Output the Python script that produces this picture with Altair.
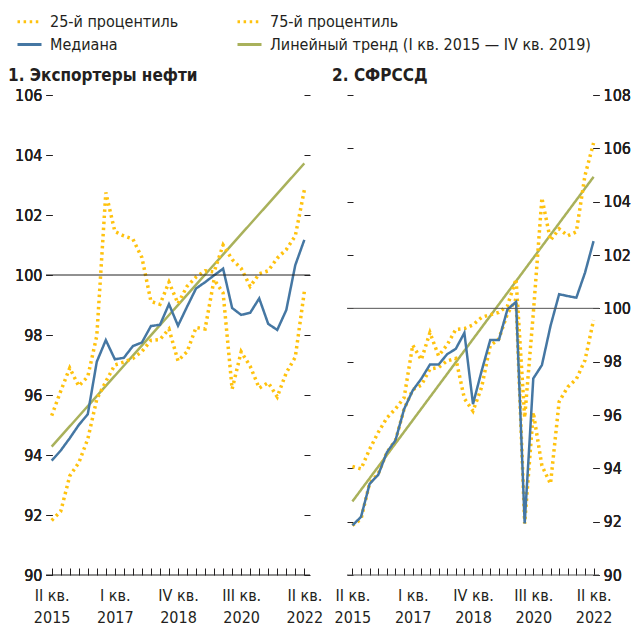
import altair as alt
import pandas as pd

# ---------------- data ----------------
roman = ["I", "II", "III", "IV"]
years = [2015, 2016, 2017, 2018, 2019, 2020, 2021, 2022]
quarters = [f"{roman[q]} кв.|{y}" for y in years for q in range(4)][1:30]  # II кв. 2015 ... II кв. 2022
x_tick_labels = ["II кв.|2015", "I кв.|2017", "IV кв.|2018", "III кв.|2020", "II кв.|2022"]

S25 = "25-й процентиль"
S75 = "75-й процентиль"
SMED = "Медиана"
STR = "Линейный тренд (I кв. 2015 — IV кв. 2019)"
series_names = [S25, S75, SMED, STR]

panel_titles = ["1. Экспортеры нефти", "2. СФРССД"]

oil_p25 = [91.82, 92.12, 93.30, 93.74, 94.53, 95.86, 96.45, 97.00, 97.10, 97.22, 97.45, 97.82, 97.85, 98.20, 97.14,
           97.44, 98.25, 98.20, 99.85, 99.40, 96.20, 97.44, 96.96, 96.23, 96.41, 95.94, 96.74, 97.26, 99.44]
oil_p75 = [95.31, 96.13, 96.90, 96.30, 96.61, 97.97, 102.75, 101.45, 101.30, 101.20, 100.58, 99.12, 99.02, 99.76, 99.05,
           99.62, 99.93, 100.14, 100.10, 101.00, 100.52, 100.22, 99.62, 100.04, 100.14, 100.56, 100.85, 101.30, 102.83]
oil_median = [93.81, 94.15, 94.56, 95.00, 95.36, 97.11, 97.83, 97.19, 97.24, 97.63, 97.75, 98.30, 98.34, 99.03, 98.31,
              98.94, 99.55, 99.76, 99.99, 100.21, 98.90, 98.67, 98.74, 99.22, 98.37, 98.17, 98.83, 100.33, 101.17]
oil_trend = [94.28, 103.72]  # first and last quarter

lic_p25 = [91.86, 92.10, 93.45, 93.80, 94.60, 95.05, 96.22, 96.95, 97.12, 97.72, 97.78, 98.03, 98.12, 96.62, 96.15,
           97.04, 98.60, 98.85, 99.80, 100.35, 91.93, 96.10, 94.10, 93.42, 96.50, 97.05, 97.35, 98.05, 99.56]
lic_p75 = [94.07, 93.98, 94.72, 95.35, 95.89, 96.23, 96.65, 98.62, 98.07, 99.09, 98.22, 98.63, 99.21, 99.24, 99.38,
           99.66, 99.76, 99.85, 100.10, 101.10, 95.90, 99.80, 104.14, 102.55, 102.98, 102.72, 102.87, 104.98, 106.20]
lic_median = [91.86, 92.18, 93.42, 93.76, 94.60, 95.05, 96.22, 96.92, 97.36, 97.89, 97.89, 98.28, 98.48, 99.08, 96.41,
              97.65, 98.81, 98.81, 99.96, 100.24, 91.93, 97.37, 97.87, 99.34, 100.53, 100.46, 100.40, 101.33, 102.52]
lic_trend = [92.76, 104.93]

oil_y_ticks = [90, 92, 94, 96, 98, 100, 102, 104, 106]
lic_y_ticks = [90, 92, 94, 96, 98, 100, 102, 104, 106, 108]
ref_lines = [90, 100]

# ---------------- styling ----------------
FONT = "Liberation Sans Narrow, Arial Narrow, DejaVu Sans Condensed, sans-serif"
YELLOW = "#ffc20e"
BLUE = "#4577a3"
OLIVE = "#a9b15b"
TXT = "#231f20"
DOT = [2.5, 3.6]

label_expr = ("indexof([" + ",".join(f"'{t}'" for t in x_tick_labels) +
              "], datum.value) >= 0 ? split(datum.value, '|') : ''")

color_scale = alt.Scale(domain=series_names, range=[YELLOW, YELLOW, BLUE, OLIVE])
dash_scale = alt.Scale(domain=series_names, range=[DOT, DOT, [1, 0], [1, 0]])


def long_df(p25, p75, med, trend):
    rows = []
    for k, (q, a, b, m) in enumerate(zip(quarters, p25, p75, med)):
        rows.append({"q": q, "k": k, "v": a, "s": S25})
        rows.append({"q": q, "k": k, "v": b, "s": S75})
        rows.append({"q": q, "k": k, "v": m, "s": SMED})
    rows.append({"q": quarters[0], "k": 0, "v": trend[0], "s": STR})
    rows.append({"q": quarters[-1], "k": len(quarters) - 1, "v": trend[1], "s": STR})
    return pd.DataFrame(rows)


def panel(title, p25, p75, med, trend, y_ticks, labels_left, title_dx, w, h, rule_color):
    df = long_df(p25, p75, med, trend)
    x = alt.X("q:O",
              scale=alt.Scale(type="point", padding=0.63, domain=quarters),
              axis=alt.Axis(title=None, labelAngle=0, labelExpr=label_expr, labelOverlap=False,
                            domain=False, tickSize=7, offset=-7, labelPadding=12,
                            labelLineHeight=22, labelFontSize=16, labelColor=TXT,
                            tickColor=TXT))
    yscale = alt.Scale(domain=[y_ticks[0], y_ticks[-1]], nice=False, zero=False)
    lab_axis = alt.Axis(title=None, values=y_ticks, orient="left" if labels_left else "right",
                        offset=-6, tickSize=6, domain=False, grid=False, labelPadding=4,
                        labelFontSize=16, labelColor=TXT, tickColor=TXT)
    tick_axis = alt.Axis(title=None, values=y_ticks, orient="right" if labels_left else "left",
                         offset=-6, tickSize=6, domain=False, grid=False, labels=False, tickColor=TXT)

    base = alt.Chart(df)
    enc = dict(
        x=x,
        color=alt.Color("s:N", scale=color_scale, title=None),
        strokeDash=alt.StrokeDash("s:N", scale=dash_scale, title=None),
        order=alt.Order("k:Q"),
    )

    trend_l = base.transform_filter(alt.datum.s == STR).mark_line(strokeWidth=2.5).encode(
        y=alt.Y("v:Q", scale=yscale, axis=lab_axis), **enc)
    dots_l = base.transform_filter((alt.datum.s == S25) | (alt.datum.s == S75)).mark_line(
        strokeWidth=3.5).encode(y=alt.Y("v:Q", scale=yscale, axis=lab_axis), **enc)
    med_l = base.transform_filter(alt.datum.s == SMED).mark_line(strokeWidth=2.5).encode(
        y=alt.Y("v:Q", scale=yscale, axis=lab_axis), **enc)

    rules = alt.Chart(pd.DataFrame({"v": ref_lines})).mark_rule(color=rule_color, strokeWidth=1).encode(
        y=alt.Y("v:Q", scale=yscale, axis=tick_axis))

    return alt.layer(trend_l, dots_l, med_l, rules).resolve_axis(y="independent").properties(
        width=w, height=h,
        title=alt.Title(title, anchor="start", fontSize=17, fontWeight="bold", color=TXT,
                        dx=title_dx, offset=2, font=FONT))


left = panel(panel_titles[0], oil_p25, oil_p75, oil_median, oil_trend, oil_y_ticks, True, -6.5, 264, 480, "#222222")
right = panel(panel_titles[1], lic_p25, lic_p75, lic_median, lic_trend, lic_y_ticks, False, -2, 252, 480, "#555555")

chart = alt.hconcat(left, right, spacing=37, bounds="flush").properties(padding=0).configure(
    font=FONT
).configure_view(stroke=None).configure_legend(
    orient="none", legendX=-30, legendY=-87, direction="horizontal",
    columns=2, symbolType="stroke", symbolSize=576, symbolStrokeWidth=3,
    labelFontSize=16, labelColor=TXT, labelFont=FONT, columnPadding=52, rowPadding=1,
    labelOffset=7, title=None, labelLimit=500
)

chart.save("out.html", embed_options={"renderer": "svg", "actions": False})
